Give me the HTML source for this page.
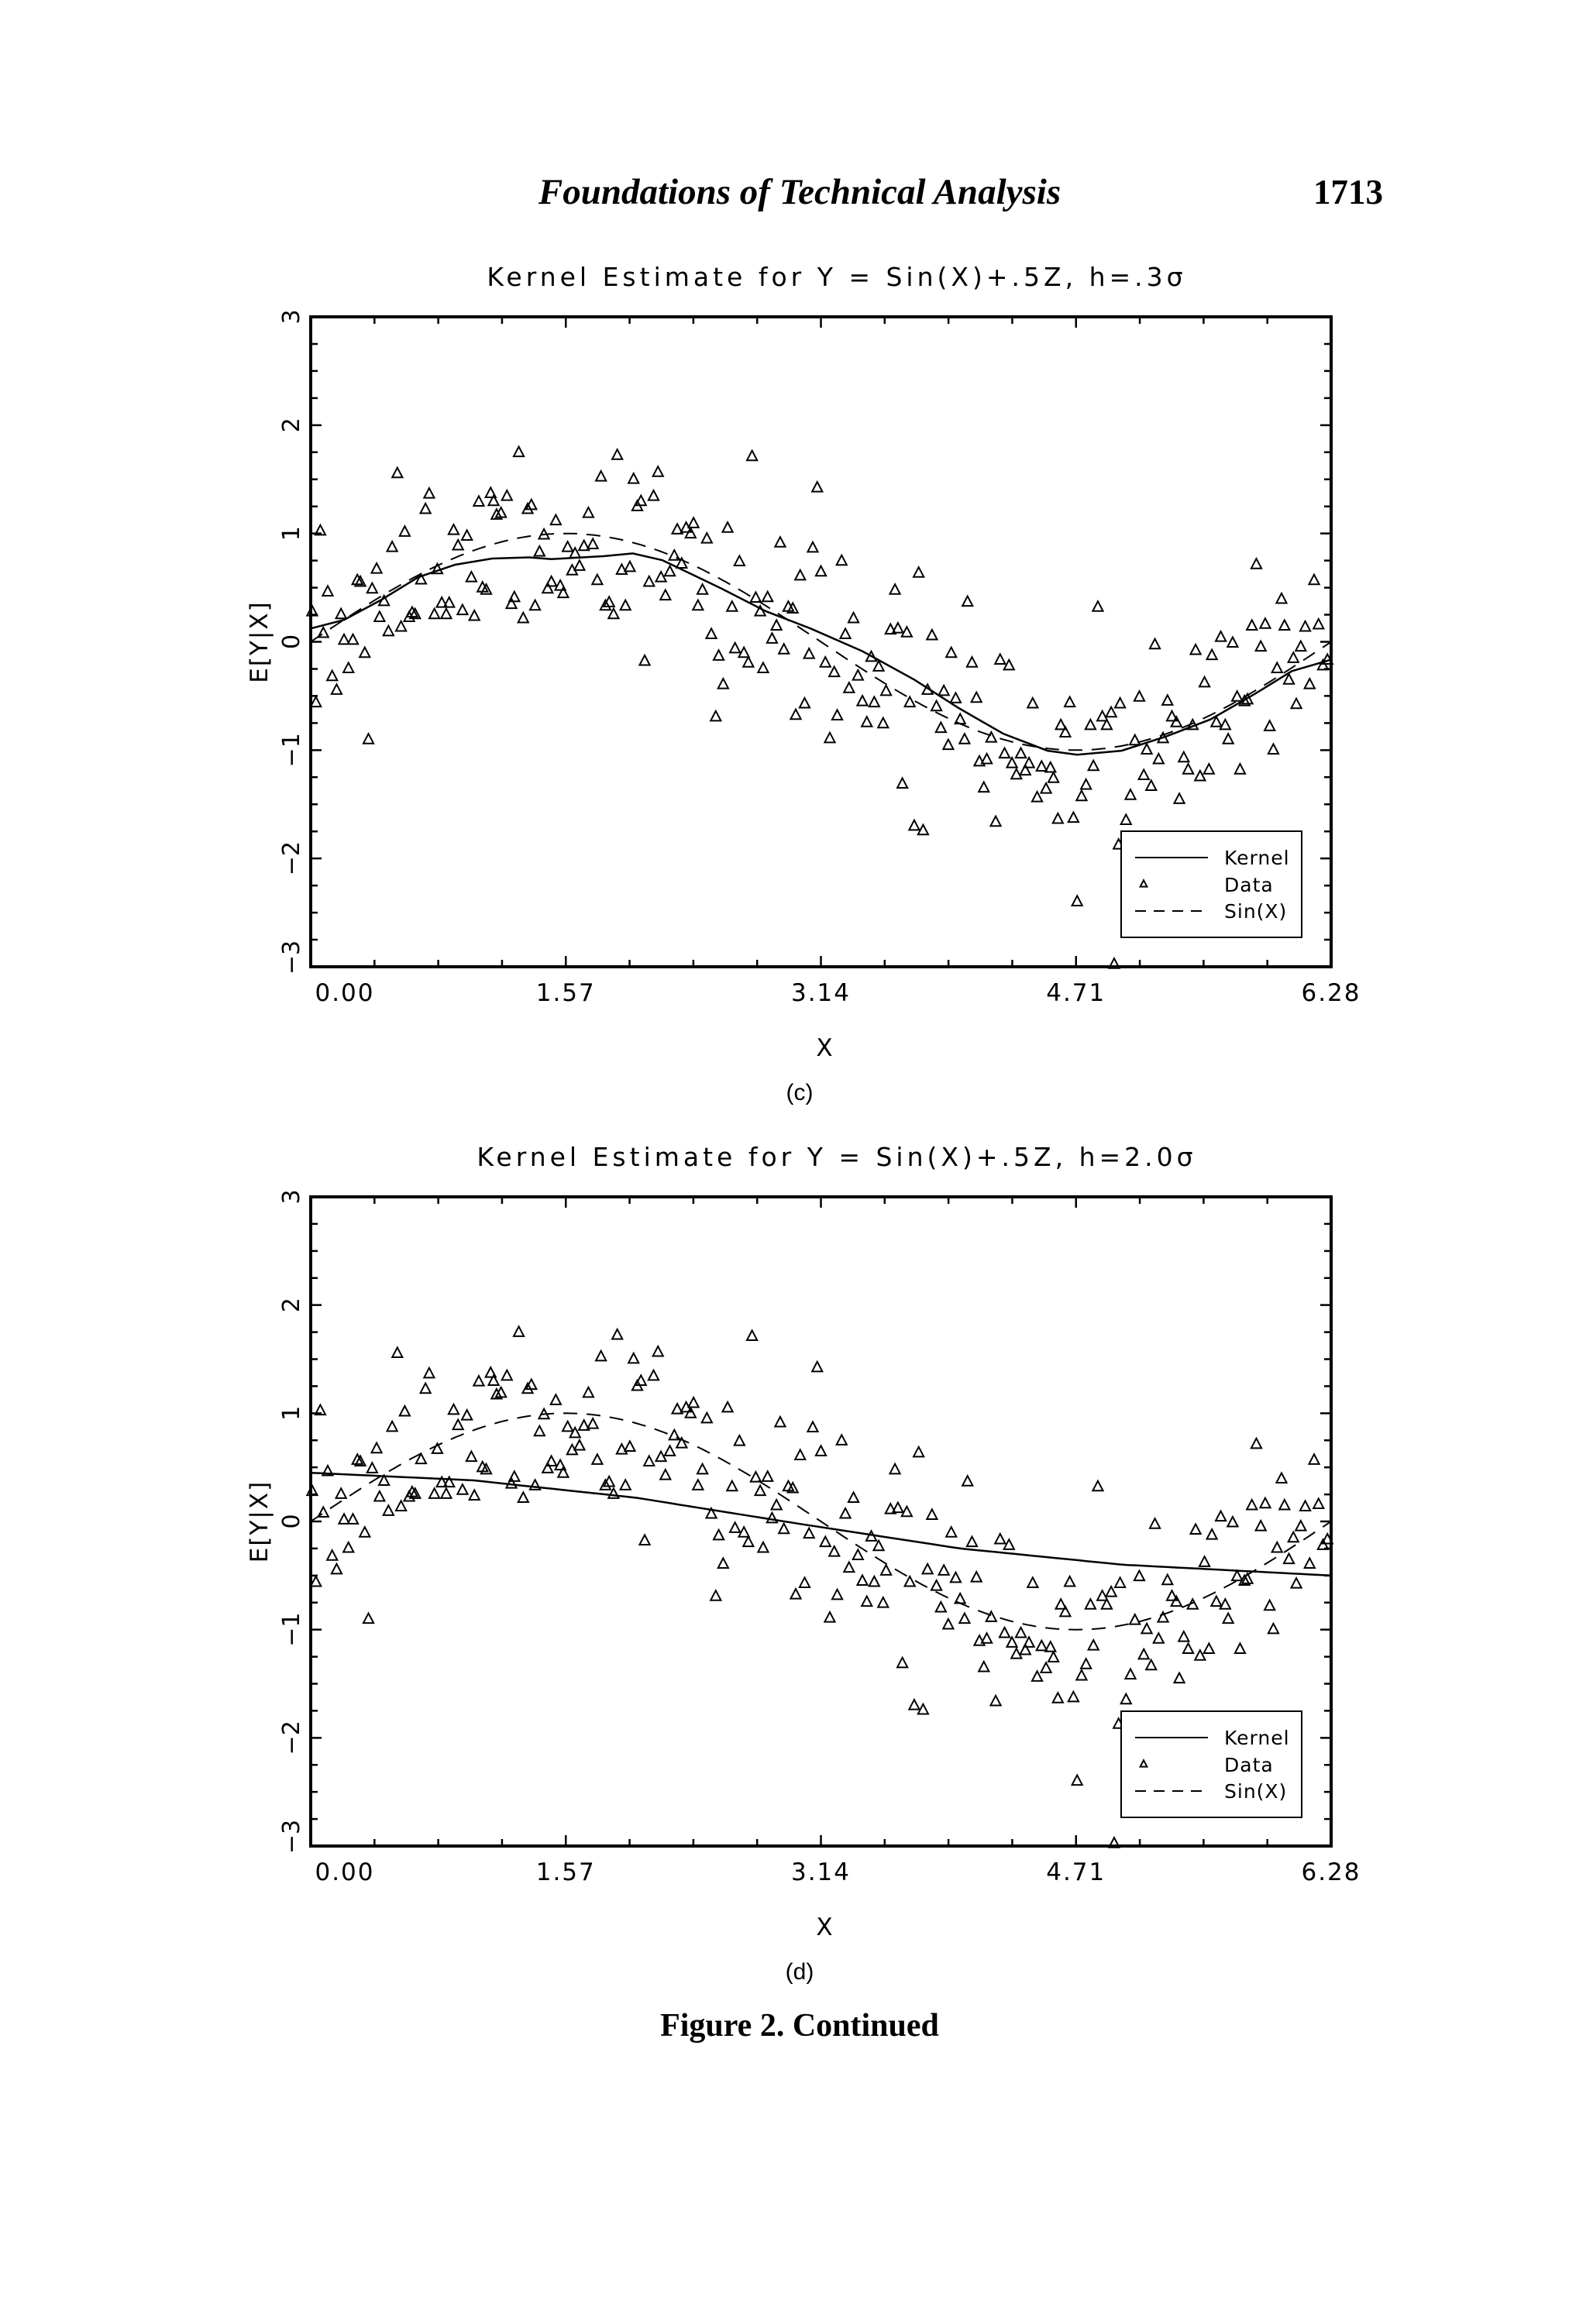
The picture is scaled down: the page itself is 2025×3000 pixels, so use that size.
<!DOCTYPE html>
<html><head><meta charset="utf-8"><style>
html,body{margin:0;padding:0;background:#fff}
svg{display:block}
</style></head><body>
<svg id="s" xmlns="http://www.w3.org/2000/svg" width="2025" height="3000" viewBox="0 0 2025 3000">
<rect width="2025" height="3000" fill="#fff"/>
<text x="1032" y="263" font-family="Liberation Serif, serif" font-style="italic" font-weight="bold" font-size="47" text-anchor="middle">Foundations of Technical Analysis</text>
<text x="1785" y="263" font-family="Liberation Serif, serif" font-weight="bold" font-size="45" text-anchor="end">1713</text>
<text x="1032" y="2628" font-family="Liberation Serif, serif" font-weight="bold" font-size="42" text-anchor="middle">Figure 2. Continued</text>
</svg>
<script>
const NS="http://www.w3.org/2000/svg",S=document.getElementById('s');
function el(t,a,txt){const e=document.createElementNS(NS,t);for(const k in a)e.setAttribute(k,a[k]);if(txt!==undefined)e.textContent=txt;S.appendChild(e);return e;}
const L=401,R=1718,W=R-L;
const pts=[[107,830],[112,990],[118,688],[122,868],[128,795],[134,944],[140,968],[146,835],[150,880],[156,930],[162,880],[168,775],[172,778],[178,903],[183,1055],[188,790],[194,755],[198,840],[204,812],[210,865],[215,717],[222,587],[227,857],[232,690],[238,840],[242,832],[246,835],[254,774],[260,650],[265,623],[272,835],[276,756],[282,815],[288,835],[292,815],[298,687],[304,714],[310,828],[316,697],[322,770],[326,838],[332,637],[337,788],[342,792],[348,622],[352,636],[356,660],[362,657],[370,627],[376,817],[380,805],[386,550],[392,842],[398,650],[403,643],[408,820],[414,725],[420,695],[425,790],[430,778],[436,670],[442,785],[446,798],[452,717],[458,758],[462,728],[468,750],[474,715],[480,657],[486,712],[492,775],[497,593],[503,820],[508,814],[514,835],[519,555],[525,757],[530,820],[536,752],[541,597],[546,645],[551,636],[556,917],[562,778],[568,627],[574,585],[578,770],[584,802],[590,760],[596,732],[600,686],[606,746],[612,683],[618,693],[622,675],[628,820],[634,792],[640,702],[646,870],[652,1015],[656,908],[662,958],[668,683],[674,822],[678,895],[684,742],[690,903],[696,920],[701,557],[706,806],[712,830],[716,930],[722,805],[728,878],[734,855],[739,709],[744,897],[750,822],[756,825],[760,1012],[766,767],[772,992],[778,905],[783,718],[789,612],[794,760],[800,920],[806,1053],[812,937],[816,1013],[822,741],[827,870],[832,965],[838,842],[844,943],[850,988],[856,1025],[862,910],[866,990],[872,927],[878,1027],[882,970],[888,862],[894,792],[898,860],[904,1133],[910,867],[914,990],[920,1207],[926,762],[932,1215],[938,968],[944,872],[950,997],[956,1035],[960,970],[966,1065],[970,903],[976,983],[982,1020],[988,1055],[992,813],[998,920],[1004,982],[1008,1094],[1014,1140],[1018,1090],[1024,1052],[1030,1200],[1036,915],[1042,1080],[1048,925],[1052,1097],[1058,1117],[1064,1080],[1070,1110],[1075,1097],[1080,992],[1086,1157],[1092,1103],[1098,1142],[1104,1105],[1108,1123],[1114,1195],[1118,1030],[1124,1043],[1130,990],[1135,1193],[1140,1340],[1146,1155],[1152,1135],[1158,1030],[1162,1102],[1168,822],[1174,1015],[1180,1030],[1186,1008],[1190,1450],[1196,1240],[1198,992],[1206,1197],[1212,1153],[1218,1057],[1224,980],[1230,1118],[1234,1073],[1240,1137],[1245,888],[1250,1090],[1256,1053],[1262,987],[1268,1015],[1274,1025],[1278,1160],[1284,1087],[1290,1108],[1296,1030],[1300,898],[1306,1120],[1312,955],[1318,1108],[1322,907],[1328,1025],[1334,875],[1340,1030],[1344,1055],[1350,885],[1356,980],[1360,1108],[1366,988],[1370,985],[1376,855],[1382,747],[1388,892],[1394,852],[1400,1032],[1405,1073],[1410,930],[1416,808],[1420,855],[1426,950],[1432,912],[1436,993],[1442,892],[1448,857],[1454,958],[1460,775],[1466,853],[1472,925],[1478,915]];
const k1=[[105,860],[150,845],[200,810],[250,770],[300,748],[350,737],[400,735],[430,738],[500,733],[540,728],[580,740],[620,765],[660,790],[720,830],[780,860],[850,900],[920,950],[980,1000],[1040,1045],[1100,1075],[1140,1082],[1200,1075],[1260,1050],[1320,1020],[1380,975],[1430,935],[1483,915]];
function tri(x,y,s){return `M${x},${y-s*0.6}L${x+s*0.55},${y+s*0.45}L${x-s*0.55},${y+s*0.45}Z`;}
function plot(T,B,title,lab,kern){
 const H=B-T,py=v=>T+(3-v)/6*H,px=v=>L+v/6.2832*W;
 el('text',{x:1080,y:T-40,'font-family':'DejaVu Sans, sans-serif','font-size':33,'letter-spacing':5,'text-anchor':'middle'},title);
 let d='';for(const p of pts){const x=L+(p[0]-105)*W/1378,y=T+(p[1]-312)*H/1143;if(y<=B+2)d+=tri(x,y,12);}
 el('path',{d:d,fill:'none',stroke:'#000','stroke-width':2});
 let s='';for(let i=0;i<=300;i++){const x=i/300*6.2832;s+=(i?'L':'M')+px(x).toFixed(1)+','+py(Math.sin(x)).toFixed(1);}
 el('path',{d:s,fill:'none',stroke:'#000','stroke-width':2,'stroke-dasharray':'18,12'});
 el('path',{d:kern(px,py,T,H),fill:'none',stroke:'#000','stroke-width':2.5});
 let t='';for(let i=0;i<=24;i++){const y=T+i*H/24,l=i%4==0?14:9;t+=`M${L},${y}h${l}M${R},${y}h${-l}`;}
 for(let i=0;i<=16;i++){const x=L+i*W/16,l=i%4==0?14:9;t+=`M${x},${T}v${l}M${x},${B}v${-l}`;}
 el('path',{d:t,stroke:'#000','stroke-width':2.5,fill:'none'});
 el('rect',{x:L,y:T,width:W,height:H,fill:'none',stroke:'#000','stroke-width':4});
 [3,2,1,0,-1,-2,-3].forEach(v=>{const y=py(v)+(v==-3?-12:0);el('text',{x:0,y:0,transform:`translate(386,${y}) rotate(-90)`,'font-family':'DejaVu Sans, sans-serif','font-size':30,'text-anchor':'middle'},v<0?'\u2212'+(-v):''+v);});
 el('text',{x:0,y:0,transform:`translate(345,${(T+B)/2}) rotate(-90)`,'font-family':'DejaVu Sans, sans-serif','font-size':31,'letter-spacing':2,'text-anchor':'middle'},'E[Y|X]');
 ['0.00','1.57','3.14','4.71','6.28'].forEach((s,i)=>el('text',{x:L+i*W/4+(i==0?44:0),y:B+44,'font-family':'DejaVu Sans, sans-serif','font-size':31,'letter-spacing':2,'text-anchor':'middle'},s));
 el('text',{x:1064,y:B+115,'font-family':'DejaVu Sans, sans-serif','font-size':31,'text-anchor':'middle'},'X');
 el('text',{x:1032,y:B+172,'font-family':'Liberation Sans, sans-serif','font-size':30,'text-anchor':'middle'},lab);
 const lt=T+664;
 el('rect',{x:1447,y:lt,width:233,height:137,fill:'#fff',stroke:'#000','stroke-width':2});
 el('path',{d:`M1465,${lt+34}h94`,stroke:'#000','stroke-width':2});
 el('path',{d:tri(1476,lt+68,8),fill:'none',stroke:'#000','stroke-width':2});
 el('path',{d:`M1465,${lt+103}h92`,stroke:'#000','stroke-width':2,'stroke-dasharray':'14,10'});
 [['Kernel',34],['Data',69],['Sin(X)',103]].forEach(a=>el('text',{x:1580,y:lt+a[1]+9,'font-family':'DejaVu Sans, sans-serif','font-size':25,'letter-spacing':1},a[0]));
}
plot(409,1248,'Kernel Estimate for Y = Sin(X)+.5Z, h=.3\u03c3','(c)',(px,py,T,H)=>{let d='';k1.forEach((p,i)=>{d+=(i?'L':'M')+(L+(p[0]-105)*W/1378).toFixed(1)+','+(T+(p[1]-312)*H/1143).toFixed(1);});return d;});
plot(1545,2383,'Kernel Estimate for Y = Sin(X)+.5Z, h=2.0\u03c3','(d)',(px,py)=>{const k=[[0,0.45],[1,0.38],[2,0.22],[3,-0.02],[4,-0.25],[5,-0.40],[6.2832,-0.50]];let d='';for(let i=0;i<=100;i++){const x=i/100*6.2832;let j=0;while(j<k.length-2&&x>k[j+1][0])j++;const a=k[j],b=k[j+1],v=a[1]+(b[1]-a[1])*(x-a[0])/(b[0]-a[0]);d+=(i?'L':'M')+px(x).toFixed(1)+','+py(v).toFixed(1);}return d;});
</script>
</body></html>
